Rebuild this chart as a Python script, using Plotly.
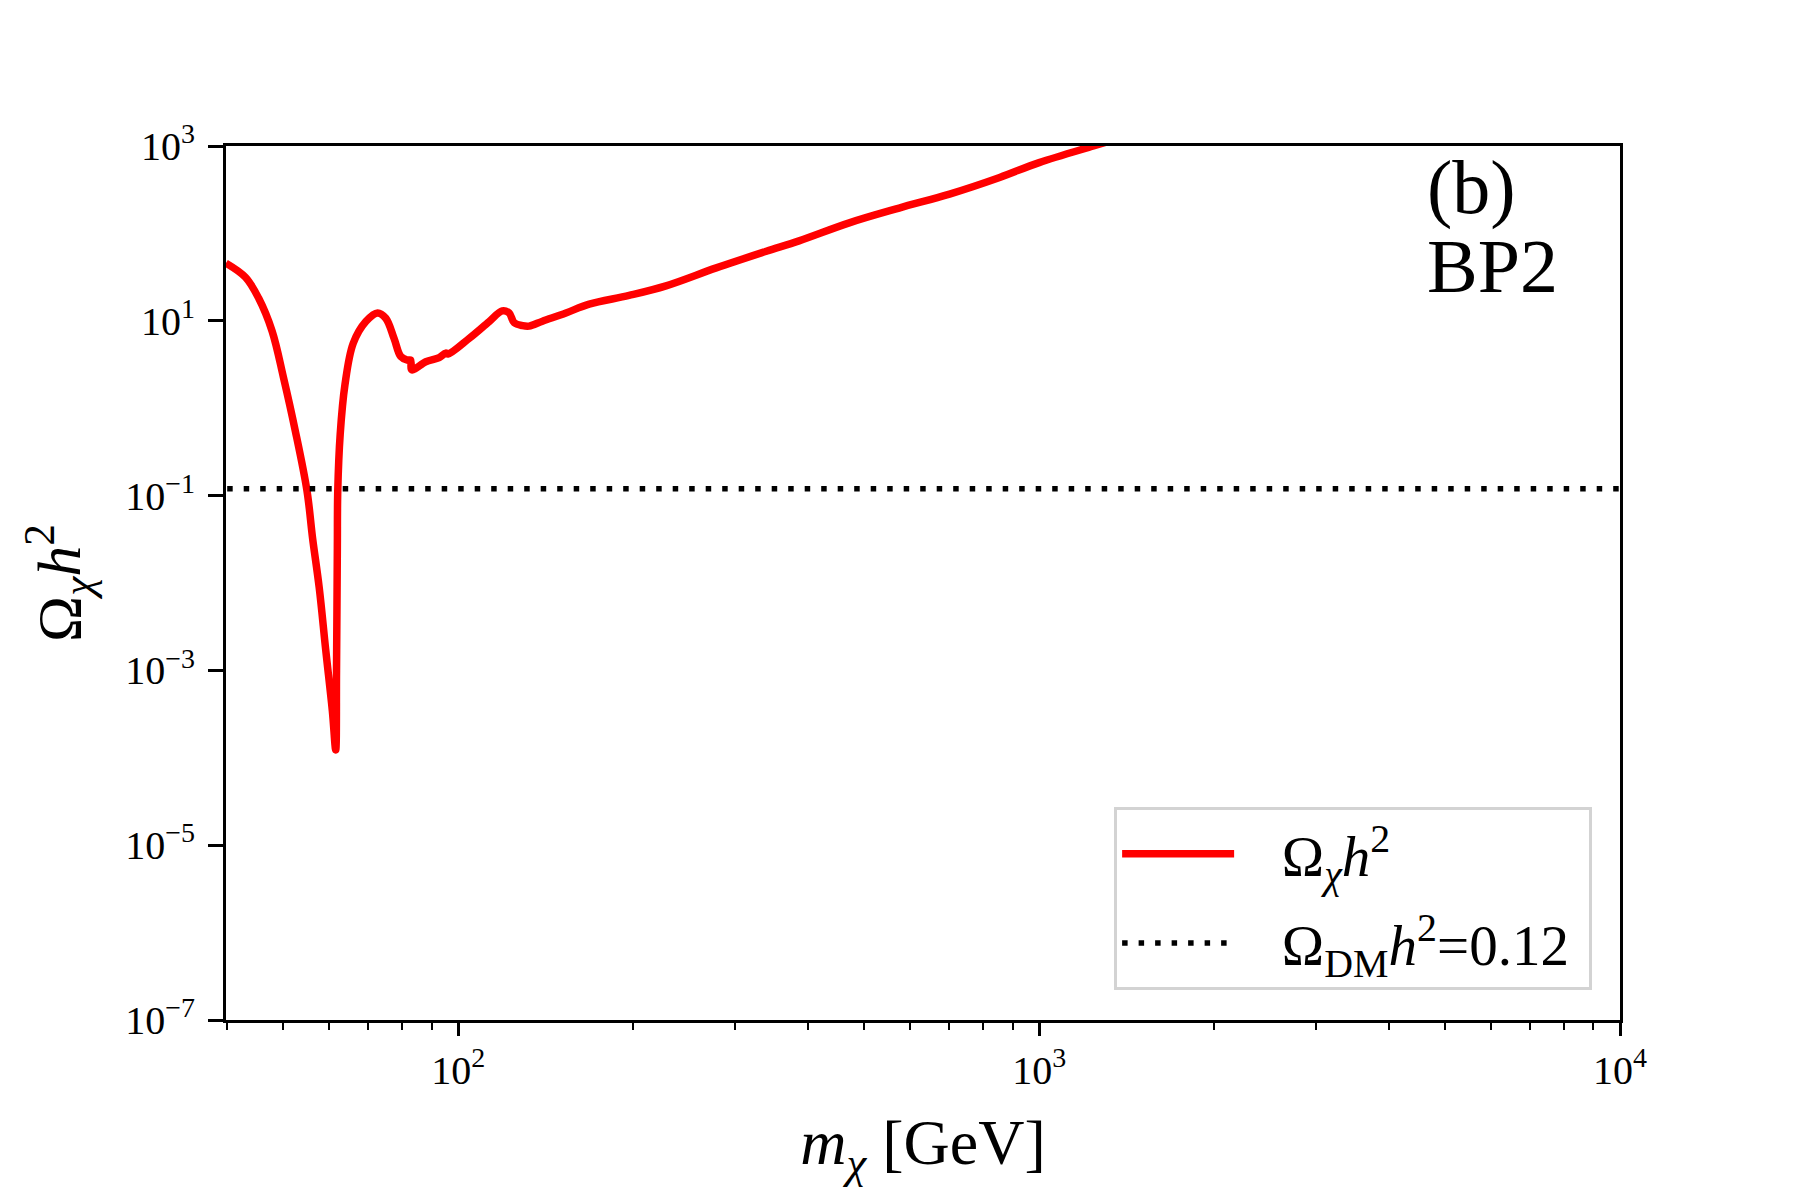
import plotly.graph_objects as go

# masa del candidato de materia oscura [GeV] y densidad reliquia
m_chi = [39.8, 43.0, 45.3, 47.8, 50.0, 52.4, 54.9, 56.1, 57.6, 59.1, 60.7, 61.5,
         61.7, 61.9, 62.0, 62.6, 63.8, 65.9, 69.3, 72.6, 75.0, 77.5, 79.6, 81.7,
         82.8, 83.1, 87.9, 92.7, 95.1, 96.0, 104.4, 113, 119, 122.3, 124.8, 129,
         132.4, 139.6, 153.2, 168, 196.8, 227.8, 278, 339, 386, 471, 574, 701,
         855, 1000, 1240, 1300]
omega = [45.7, 31.5, 18.2, 7.6, 2.24, 0.55, 0.112, 0.033, 8.9e-3, 1.74e-3, 3.4e-4, 1.23e-4,
         1.0e-3, 2.5e-2, 0.112, 0.50, 1.86, 5.5, 9.8, 12.3, 10.7, 6.3, 3.9, 3.55,
         3.55, 2.75, 3.4, 3.8, 4.27, 4.17, 6.3, 9.8, 13.0, 12.3, 9.5, 8.8,
         8.7, 9.9, 12.3, 15.5, 19.5, 25.1, 40.3, 62.4, 82.2, 132, 195, 282,
         437, 646, 1000, 1100]

# valor observado (Planck)
omega_dm = 0.12
x_span = [40, 10000]

x_major = [100, 1000, 10000]
x_major_txt = ['10<sup>2</sup>', '10<sup>3</sup>', '10<sup>4</sup>']
x_minor = [40, 50, 60, 70, 80, 90, 200, 300, 400, 500, 600, 700, 800, 900,
           2000, 3000, 4000, 5000, 6000, 7000, 8000, 9000]
y_major = [1e-7, 1e-5, 1e-3, 1e-1, 1e1, 1e3]
y_major_txt = ['10<sup>\u22127</sup>', '10<sup>\u22125</sup>', '10<sup>\u22123</sup>',
               '10<sup>\u22121</sup>', '10<sup>1</sup>', '10<sup>3</sup>']

fuente = 'Liberation Serif'
hueco = '\u00a0\u00a0\u00a0'
cola = '\u00a0'

fig = go.Figure()

fig.add_trace(go.Scatter(x=m_chi, y=omega, mode='lines',
                         line=dict(color='#ff0000', width=7.5, shape='spline', smoothing=1.0),
                         legendgroup='a',
                         name=hueco + '\u03a9<sub><i>\u03c7</i></sub><i>h</i><sup>2</sup>' + cola))

fig.add_trace(go.Scatter(x=x_span, y=[omega_dm, omega_dm], mode='lines',
                         line=dict(color='black', width=5.5, dash='5.5px,11px'),
                         legendgroup='b',
                         name=hueco + '\u03a9<sub>DM</sub><i>h</i><sup>2</sup>=0.12' + cola))

fig.add_annotation(text='(b)', xref='paper', yref='paper', x=0.86, y=0.953,
                   xanchor='left', yanchor='middle', showarrow=False,
                   font=dict(family=fuente, size=76, color='black'))
fig.add_annotation(text='BP2', xref='paper', yref='paper', x=0.86, y=0.863,
                   xanchor='left', yanchor='middle', showarrow=False,
                   font=dict(family=fuente, size=76, color='black'))

fig.update_layout(
    width=1800, height=1200,
    margin=dict(l=218, r=188, t=138, b=188),
    paper_bgcolor='white', plot_bgcolor='white',
    font=dict(family=fuente, color='black'),
    legend=dict(x=0.98, xanchor='right', y=0.034, yanchor='bottom',
                bgcolor='white', bordercolor='#d3d3d3', borderwidth=3,
                font=dict(family=fuente, size=57), itemwidth=112,
                tracegroupgap=12),
    xaxis=dict(type='log', range=[1.6, 4], showgrid=False, zeroline=False,
               showline=True, linecolor='black', linewidth=3, mirror=True,
               ticks='outside', ticklen=13, tickwidth=2.5, tickcolor='black',
               tickvals=x_major, ticktext=x_major_txt,
               tickfont=dict(family=fuente, size=40),
               minor=dict(ticks='outside', ticklen=7, tickwidth=2, tickcolor='black',
                          tickvals=x_minor, showgrid=False),
               title=dict(text='<i>m</i><sub><i>\u03c7</i></sub> [GeV]',
                          font=dict(family=fuente, size=64), standoff=28)),
    yaxis=dict(type='log', range=[-7, 3], showgrid=False, zeroline=False,
               showline=True, linecolor='black', linewidth=3, mirror=True,
               ticks='outside', ticklen=15, tickwidth=2.5, tickcolor='black',
               tickvals=y_major, ticktext=y_major_txt, ticklabelstandoff=5,
               tickfont=dict(family=fuente, size=40),
               title=dict(text='\u03a9<sub><i>\u03c7</i></sub><i>h</i><sup>2</sup>',
                          font=dict(family=fuente, size=62), standoff=25)),
)

fig.write_html('out.html')
